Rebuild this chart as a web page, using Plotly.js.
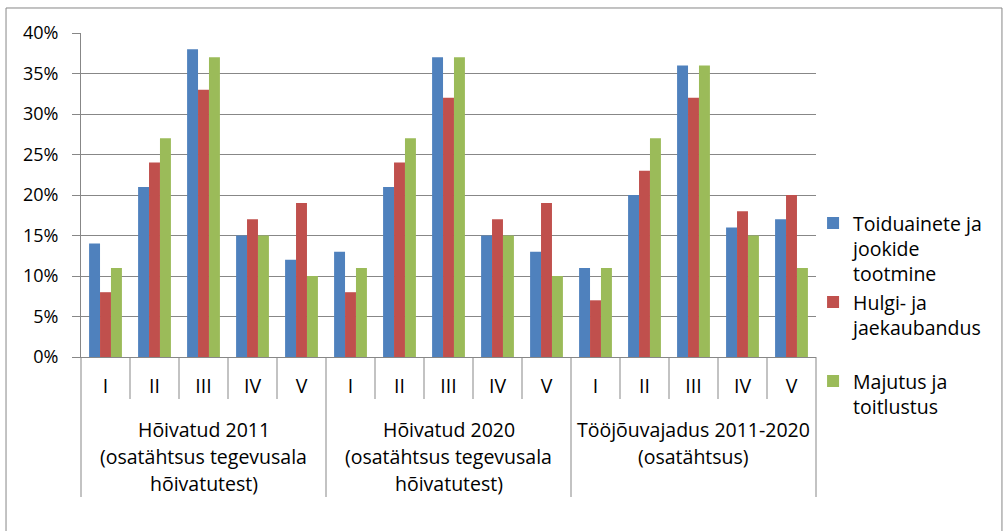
<!DOCTYPE html>
<html>
<head>
<meta charset="utf-8">
<script src="https://cdn.plot.ly/plotly-3.0.1.min.js"></script>
<style>
html,body{margin:0;padding:0;background:#fff;}
#chart{width:1003px;height:531px;}
</style>
</head>
<body>
<div id="chart"></div>
<script>
// ---- data ----
const groups = ["Hõivatud 2011", "Hõivatud 2020", "Tööjõuvajadus 2011-2020"];
const groupLabelLines = [
  ["Hõivatud 2011", "(osatähtsus tegevusala", "hõivatutest)"],
  ["Hõivatud 2020", "(osatähtsus tegevusala", "hõivatutest)"],
  ["Tööjõuvajadus 2011-2020", "(osatähtsus)"]
];
const levels = ["I", "II", "III", "IV", "V"];
const seriesNames = [
  "Toiduainete ja<br>jookide<br>tootmine",
  "Hulgi- ja<br>jaekaubandus<br>&nbsp;",
  "Majutus ja<br>toitlustus"
];
const seriesColors = ["#4F81BD", "#C0504D", "#9BBB59"];
// values per group, levels I..V
const toiduained = [
  [0.14, 0.21, 0.38, 0.15, 0.12],
  [0.13, 0.21, 0.37, 0.15, 0.13],
  [0.11, 0.20, 0.36, 0.16, 0.17]
];
const kaubandus = [
  [0.08, 0.24, 0.33, 0.17, 0.19],
  [0.08, 0.24, 0.32, 0.17, 0.19],
  [0.07, 0.23, 0.32, 0.18, 0.20]
];
const majutus = [
  [0.11, 0.27, 0.37, 0.15, 0.10],
  [0.11, 0.27, 0.37, 0.15, 0.10],
  [0.11, 0.27, 0.36, 0.15, 0.11]
];
const seriesValues = [toiduained, kaubandus, majutus];

// ---- build ----
const FONT = "Open Sans, Noto Sans, sans-serif";
const GRAY = "#878787";
const keys = [], tickText = [];
groups.forEach(g => levels.forEach(l => { keys.push(g + " · " + l); tickText.push(l); }));
const nCat = keys.length;

const traces = seriesValues.map((vals, s) => ({
  type: "bar",
  name: seriesNames[s],
  x: keys,
  y: vals.flat(),
  marker: {color: seriesColors[s], line: {width: 0}},
  hovertemplate: "%{x}: %{y:.0%}<extra></extra>"
}));

const shapes = [];
// outer chart border
shapes.push({type: "rect", xref: "paper", yref: "paper", x0: -0.102, x1: 1.253, y0: -0.6, y1: 1.0772,
  line: {color: GRAY, width: 1}, fillcolor: "rgba(0,0,0,0)", layer: "below"});
// category dividers
for (let i = 0; i <= nCat; i++) {
  const isGroup = i % levels.length === 0;
  shapes.push({type: "line", xref: "paper", yref: "paper",
    x0: i / nCat, x1: i / nCat, y0: 0, y1: isGroup ? -140 / 324 : -42 / 324,
    line: {color: GRAY, width: 1}});
}

const annotations = [];
groups.forEach((g, gi) => {
  const centerKey = keys[gi * levels.length + 2];
  groupLabelLines[gi].forEach((line, li) => {
    annotations.push({xref: "x", yref: "paper", x: centerKey, y: 0,
      yanchor: "middle", xanchor: "center", yshift: -72 - li * 27,
      text: line, showarrow: false, font: {family: FONT, size: 19.5, color: "#000"}});
  });
});

const layout = {
  width: 1003, height: 531,
  margin: {l: 81, r: 187, t: 33, b: 174, pad: 0},
  paper_bgcolor: "#fff", plot_bgcolor: "#fff",
  font: {family: FONT, color: "#000"},
  barmode: "group", bargap: 0.33, bargroupgap: 0,
  showlegend: true,
  legend: {x: 0.996, xanchor: "left", y: 0.473, yanchor: "top", valign: "top",
    font: {family: FONT, size: 19.5, color: "#000"}, bgcolor: "rgba(0,0,0,0)",
    borderwidth: 0, tracegroupgap: 0, traceorder: "normal"},
  xaxis: {type: "category", categoryorder: "array", categoryarray: keys,
    tickvals: keys, ticktext: tickText, ticks: "", showgrid: false,
    showline: true, linecolor: GRAY, linewidth: 1, zeroline: false,
    tickfont: {family: FONT, size: 19.5, color: "#000"}, ticklabelstandoff: 12,
    fixedrange: true},
  yaxis: {range: [0, 0.4], dtick: 0.05, tick0: 0, tickformat: ".0%",
    showgrid: true, gridcolor: GRAY, gridwidth: 1, zeroline: false,
    showline: true, linecolor: GRAY, linewidth: 1,
    ticks: "outside", ticklen: 8, tickcolor: GRAY, tickwidth: 1,
    tickfont: {family: FONT, size: 18, color: "#000"}, ticklabelstandoff: 10,
    fixedrange: true},
  shapes: shapes,
  annotations: annotations
};

Plotly.newPlot("chart", traces, layout, {displayModeBar: false, staticPlot: false});
</script>
</body>
</html>
